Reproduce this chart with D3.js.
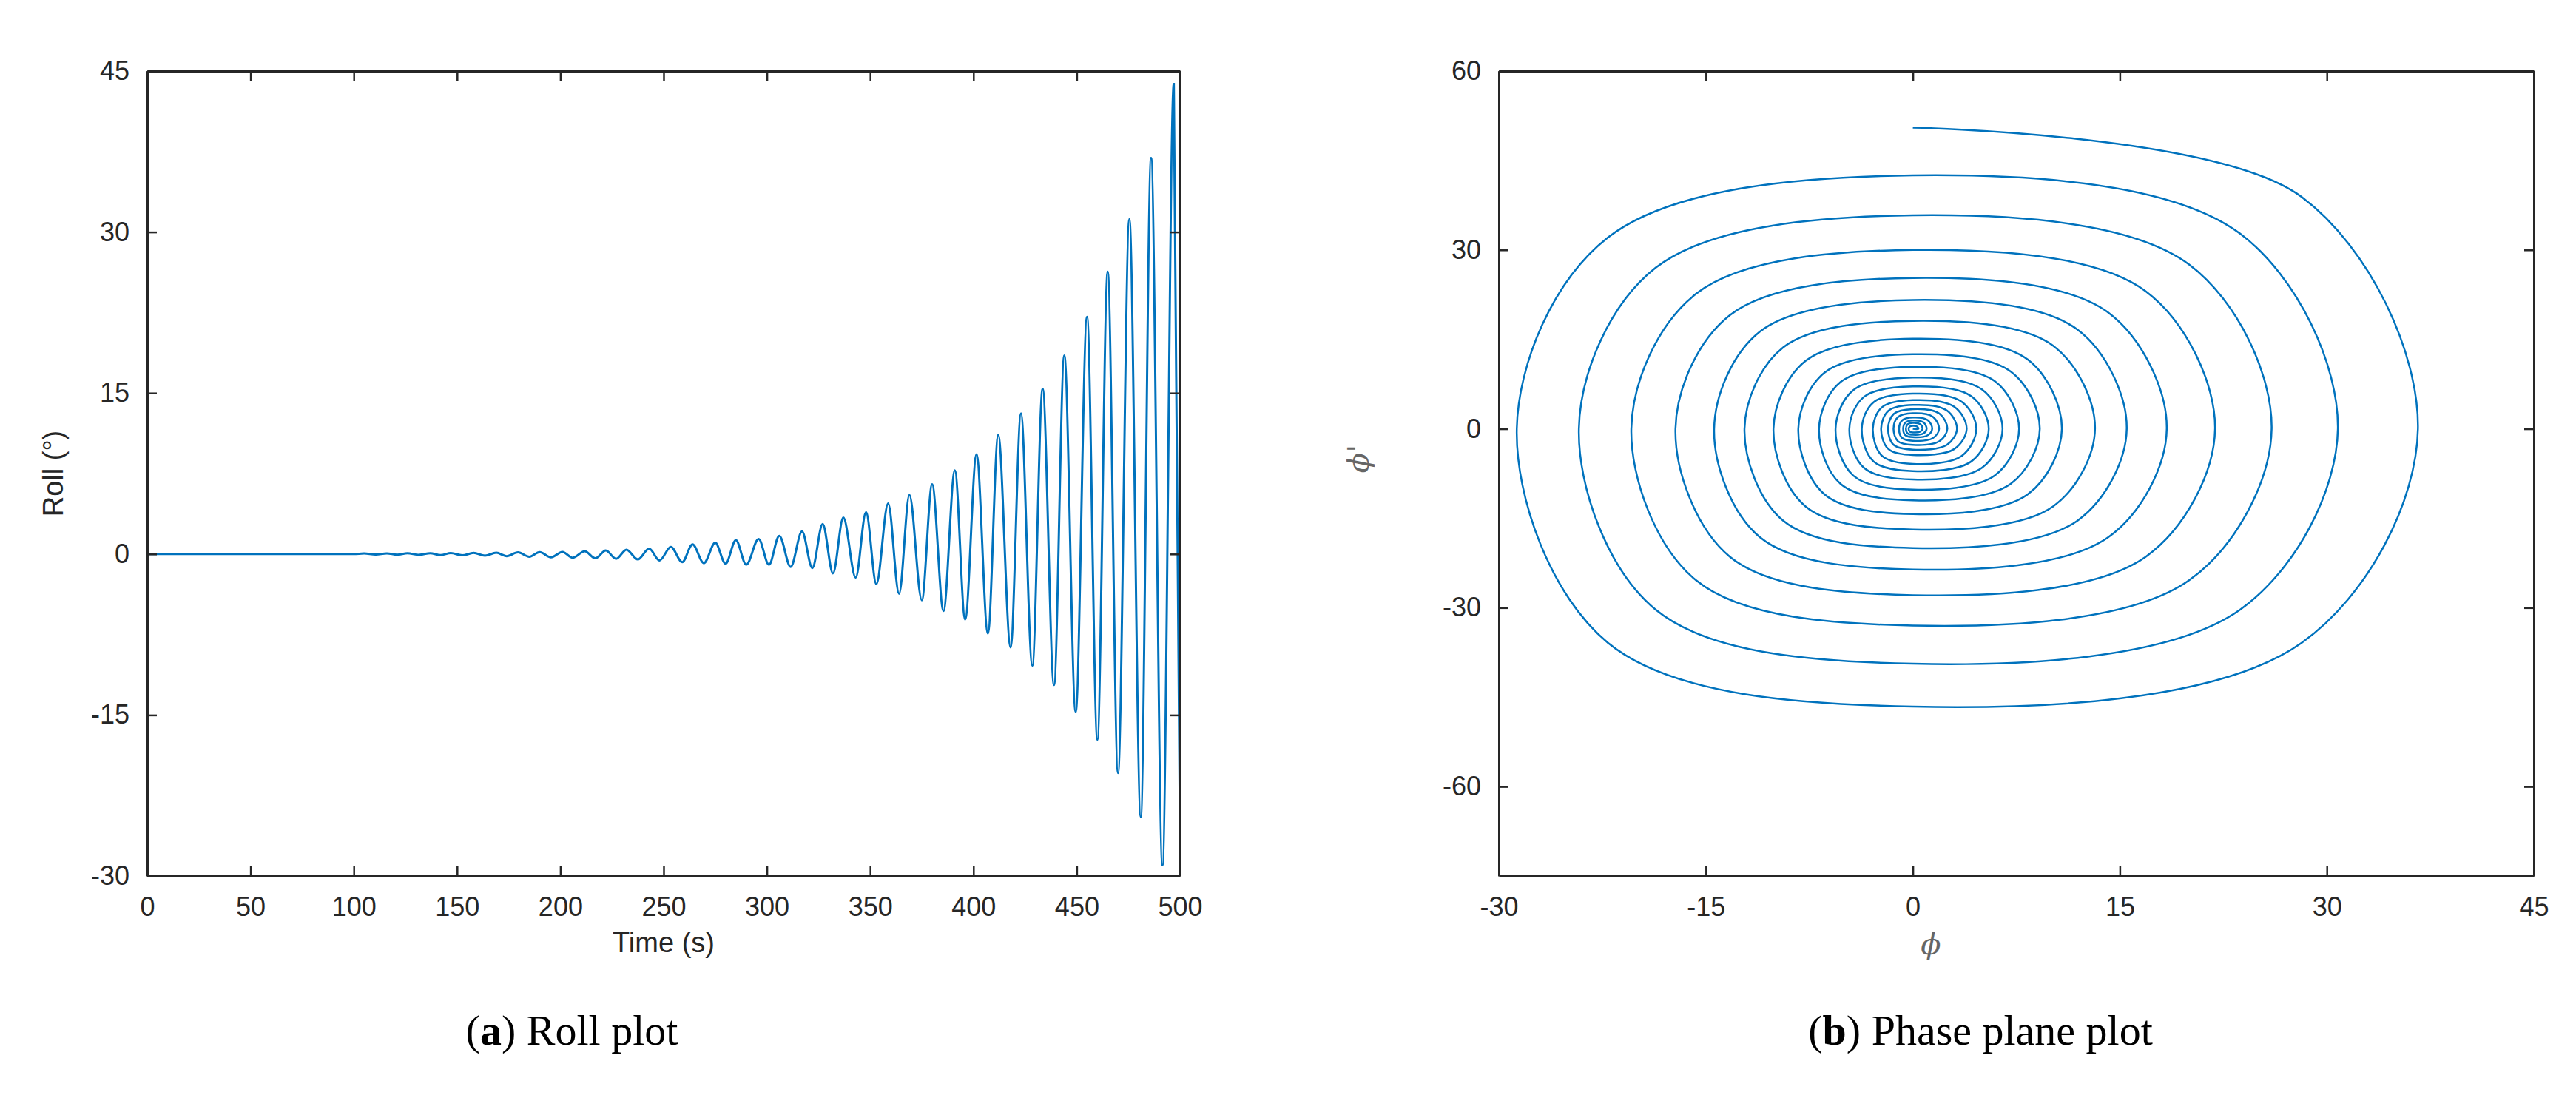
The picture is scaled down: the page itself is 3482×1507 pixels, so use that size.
<!DOCTYPE html>
<html><head><meta charset="utf-8">
<script src="https://cdn.jsdelivr.net/npm/d3@7"></script>
<style>body{margin:0;background:#fff}text{font-family:"Liberation Sans",Arial,sans-serif}</style>
</head><body><svg id="c" width="3482" height="1507"></svg>
<script>
// ---- Roll plot data (extrema) ----
const rollTimes = [0,100,105,110.5,116,121,126,131.5,137,142,147,152.5,158,163.5,169,174,179.5,185,190,195.5,201,206,211.8,217,222,227,232,237.5,243,248,253.5,259,264,269.5,275,280,285,290,296,301,306,311.5,317,322,327,332,337,343,348,353,358.7,364,369,375,380,385.5,391,396,401.5,407,412,418,423,428.5,433.5,439,444,449.5,455,460,465,470,475.5,481,486,491.5,497,500];
const rollValues = [0,0,0.05,-0.05,0.06,-0.06,0.07,-0.08,0.08,-0.1,0.09,-0.12,0.1,-0.15,0.12,-0.2,0.15,-0.25,0.18,-0.3,0.2,-0.35,0.26,-0.4,0.33,-0.45,0.4,-0.5,0.5,-0.6,0.66,-0.75,0.9,-0.85,1.05,-0.9,1.3,-1.0,1.4,-1.0,1.7,-1.2,2.1,-1.3,2.8,-1.8,3.4,-2.2,3.9,-2.8,4.7,-3.7,5.5,-4.3,6.5,-5.3,7.8,-6.1,9.3,-7.4,11.1,-8.7,13.1,-10.4,15.4,-12.2,18.5,-14.7,22.1,-17.3,26.3,-20.4,31.2,-24.5,36.9,-29,43.8,-26];
const rollXTicks = [0,50,100,150,200,250,300,350,400,450,500];
const rollYTicks = [-30,-15,0,15,30,45];

// ---- Phase plane data: per loop (inner -> outer) axis crossings ----
const loopRight  = [0.4,0.7,1.0,1.4,1.9,2.5,3.2,3.9,4.6,5.5,6.5,7.7,9.2,10.8,13.2,15.5,18.4,21.9,26.0,30.8,36.6,43.6];
const loopTop    = [0.5,1.0,1.4,1.9,2.6,3.3,4.0,4.8,5.9,7.1,8.6,10.4,12.5,15.1,18.1,21.6,25.3,30.0,35.8,42.5,50.5,60.0];
const loopLeft   = [-0.3,-0.5,-0.7,-1.0,-1.4,-1.8,-2.3,-2.9,-3.7,-4.6,-5.6,-6.8,-8.3,-10.1,-12.2,-14.4,-17.2,-20.4,-24.2,-28.7];
const loopBottom = [-0.6,-1.0,-1.4,-2.0,-2.7,-3.5,-4.4,-5.9,-7.1,-8.5,-10.2,-12.0,-14.3,-16.9,-20.0,-23.6,-27.9,-33.0,-39.4,-46.6,-55.1,-65.5];
const phaseEnd = [-26,43];
const phaseXTicks = [-30,-15,0,15,30,45];
const phaseYTicks = [-60,-30,0,30,60];

const svg = d3.select("#c");
const blue = "#0072BD", axc = "#262626";
const fmt = d => String(d); // hyphen minus like MATLAB

function frame(g, x, y, xt, yt){
  const [x0,x1]=x.range(), [y0,y1]=y.range();
  const tl=13;
  g.append("g").attr("transform",`translate(0,${y0})`).call(d3.axisBottom(x).tickValues(xt).tickFormat(fmt).tickSizeInner(-tl).tickSizeOuter(0).tickPadding(28));
  g.append("g").attr("transform",`translate(0,${y1})`).call(d3.axisTop(x).tickValues(xt).tickSizeInner(-tl).tickSizeOuter(0).tickFormat(""));
  g.append("g").attr("transform",`translate(${x0},0)`).call(d3.axisLeft(y).tickValues(yt).tickFormat(fmt).tickSizeInner(-tl).tickSizeOuter(0).tickPadding(24));
  g.append("g").attr("transform",`translate(${x1},0)`).call(d3.axisRight(y).tickValues(yt).tickSizeInner(-tl).tickSizeOuter(0).tickFormat(""));
  g.selectAll(".domain").attr("stroke",axc).attr("stroke-width",3);
  g.selectAll(".tick line").attr("stroke",axc).attr("stroke-width",2.5);
  g.selectAll(".tick text").attr("fill",axc).style("font-size","36px").style("font-family","Liberation Sans, Arial, sans-serif");
}

// Roll plot
{
  const g = svg.append("g");
  const x = d3.scaleLinear().domain([0,500]).range([199,1595]);
  const y = d3.scaleLinear().domain([-30,45]).range([1184,96]);
  const pts = rollTimes.map((t,i)=>[t,rollValues[i]]);
  g.append("path").datum(pts).attr("fill","none").attr("stroke",blue).attr("stroke-width",3)
    .attr("d", d3.line().x(d=>x(d[0])).y(d=>y(d[1])).curve(d3.curveMonotoneX));
  frame(g,x,y,rollXTicks,rollYTicks);
  g.append("text").attr("x",(199+1595)/2).attr("y",1287).attr("text-anchor","middle").attr("fill",axc).style("font-size","38px").text("Time (s)");
  g.append("text").attr("transform","translate(85,640) rotate(-90)").attr("text-anchor","middle").attr("fill",axc).style("font-size","38px").text("Roll (°)");
  const cap = g.append("text").attr("x",773).attr("y",1412).attr("text-anchor","middle").style("font-family","Liberation Serif, serif").style("font-size","58px").attr("fill","#000");
  cap.append("tspan").text("(");cap.append("tspan").attr("font-weight","bold").text("a");cap.append("tspan").text(") Roll plot");
}

// Phase plot
{
  const g = svg.append("g");
  const x = d3.scaleLinear().domain([-30,45]).range([2026,3425]);
  const y = d3.scaleLinear().domain([-75,60]).range([1184,96]);
  const q = 0.77; // quadrant fullness of the loops
  const seq=[[0,0]];
  const n = loopRight.length;
  for(let k=0;k<n;k++){
    const r=loopRight[k], t=loopTop[k];
    seq.push([r,0]);
    seq.push([q*r,q*t]);
    seq.push([0,t]);
    if(k<n-1){
      const l=loopLeft[k], b=loopBottom[k], rn=loopRight[k+1];
      seq.push([q*l,q*t*0.98]);
      seq.push([l,0]);
      seq.push([q*l,q*b]);
      seq.push([0,b]);
      seq.push([q*rn,q*b]);
    }
  }
  seq.push(phaseEnd);
  g.append("path").datum(seq).attr("fill","none").attr("stroke",blue).attr("stroke-width",2.5)
    .attr("d", d3.line().x(d=>x(d[0])).y(d=>y(d[1])).curve(d3.curveCatmullRom.alpha(0.5)));
  frame(g,x,y,phaseXTicks,phaseYTicks);
  g.append("text").attr("x",2610).attr("y",1290).attr("text-anchor","middle").attr("fill","#666").style("font-size","40px").style("font-style","italic").style("font-family","DejaVu Serif, serif").text("ϕ");
  g.append("text").attr("transform","translate(1850,620) rotate(-90)").attr("text-anchor","middle").attr("fill","#666").style("font-size","40px").style("font-style","italic").style("font-family","DejaVu Serif, serif").text("ϕ'");
  const cap = g.append("text").attr("x",2677).attr("y",1412).attr("text-anchor","middle").style("font-family","Liberation Serif, serif").style("font-size","58px").attr("fill","#000");
  cap.append("tspan").text("(");cap.append("tspan").attr("font-weight","bold").text("b");cap.append("tspan").text(") Phase plane plot");
}
</script></body></html>
